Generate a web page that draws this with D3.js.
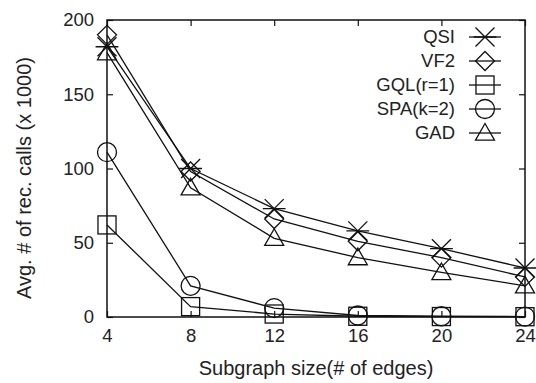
<!DOCTYPE html>
<html><head><meta charset="utf-8">
<script src="https://cdn.jsdelivr.net/npm/d3@7"></script>
<style>body{margin:0;background:#fff}svg{display:block}text{font-family:"Liberation Sans",Arial,sans-serif;fill:#222}</style>
</head><body><svg id="c" width="536" height="383"></svg>
<script>
const xValues = [4, 8, 12, 16, 20, 24];
const seriesNames = ["QSI", "VF2", "GQL(r=1)", "SPA(k=2)", "GAD"];
const seriesSymbols = ["star", "diamond", "square", "circle", "triangle"];
const qsi = [182, 100, 73, 58, 46, 33];
const vf2 = [190, 98, 66, 51, 40, 27];
const gql = [62, 7, 2, 0.5, 0.3, 0.2];
const spa = [111, 21, 6, 1, 0.5, 0.3];
const gad = [178, 87, 53, 40, 30, 21];
const yTicks = [0, 50, 100, 150, 200];
const seriesValues = [qsi, vf2, gql, spa, gad];

const svg = d3.select("#c");
const L = 107, R = 525, T = 20, B = 317;
const x = d3.scaleLinear().domain([4, 24]).range([L, R]);
const y = d3.scaleLinear().domain([0, 200]).range([B, T]);
const col = "#111";
const ff = '"Liberation Sans",Arial,sans-serif';

svg.append("rect").attr("x", L).attr("y", T).attr("width", R - L).attr("height", B - T)
  .attr("fill", "none").attr("stroke", col).attr("stroke-width", 1.5);

const fs = 18.5;
svg.append("g").attr("transform", `translate(0,${B})`)
  .call(d3.axisBottom(x).tickValues(xValues).tickSize(-6).tickPadding(12));
svg.append("g").attr("transform", `translate(${L},0)`)
  .call(d3.axisLeft(y).tickValues(yTicks).tickSize(-6).tickPadding(13));
svg.append("g").attr("transform", `translate(0,${T})`)
  .call(d3.axisTop(x).tickValues(xValues).tickSize(-6).tickFormat(""));
svg.append("g").attr("transform", `translate(${R},0)`)
  .call(d3.axisRight(y).tickValues(yTicks).tickSize(-6).tickFormat(""));
svg.selectAll(".domain").remove();
svg.selectAll(".tick line").attr("stroke", col).attr("stroke-width", 1.2);
svg.selectAll(".tick text").attr("font-size", fs).attr("fill", "#222").style("font-family", ff);

function drawMarker(g, type, cx, cy, s) {
  const a = g.append("g").attr("fill", "none").attr("stroke", col).attr("stroke-width", 1.3);
  if (type === "star") {
    a.append("path").attr("d", `M${cx - s},${cy - s}L${cx + s},${cy + s}M${cx - s},${cy + s}L${cx + s},${cy - s}M${cx - s * 1.2},${cy}L${cx + s * 1.2},${cy}`);
  } else if (type === "diamond") {
    a.append("path").attr("d", `M${cx},${cy - s}L${cx + s},${cy}L${cx},${cy + s}L${cx - s},${cy}Z`);
  } else if (type === "square") {
    a.append("rect").attr("x", cx - s * 0.95).attr("y", cy - s * 0.95).attr("width", s * 1.9).attr("height", s * 1.9);
  } else if (type === "circle") {
    a.append("circle").attr("cx", cx).attr("cy", cy).attr("r", s);
  } else if (type === "triangle") {
    a.append("path").attr("d", `M${cx},${cy - s}L${cx + s},${cy + s * 0.75}L${cx - s},${cy + s * 0.75}Z`);
  }
}

const line = d3.line().x((d, i) => x(xValues[i])).y(d => y(d));
seriesValues.forEach((vals, k) => {
  svg.append("path").datum(vals).attr("d", line).attr("fill", "none")
    .attr("stroke", col).attr("stroke-width", 1.3);
  const g = svg.append("g");
  vals.forEach((v, i) => drawMarker(g, seriesSymbols[k], x(xValues[i]), y(v), 9.5));
});

const lg = svg.append("g");
seriesNames.forEach((n, k) => {
  const yy = 37 + k * 24;
  lg.append("text").attr("x", 455).attr("y", yy).attr("dy", "0.35em").attr("text-anchor", "end")
    .attr("font-size", fs).text(n);
  lg.append("line").attr("x1", 469).attr("x2", 501).attr("y1", yy).attr("y2", yy)
    .attr("stroke", col).attr("stroke-width", 1.3);
  drawMarker(lg, seriesSymbols[k], 485, yy, 9.5);
});

svg.append("text").attr("x", 316).attr("y", 375).attr("text-anchor", "middle")
  .attr("font-size", 20).text("Subgraph size(# of edges)");
svg.append("text").attr("transform", `translate(24,178) rotate(-90)`).attr("dy", "0.35em")
  .attr("text-anchor", "middle").attr("font-size", 20).text("Avg. # of rec. calls (x 1000)");
</script></body></html>
